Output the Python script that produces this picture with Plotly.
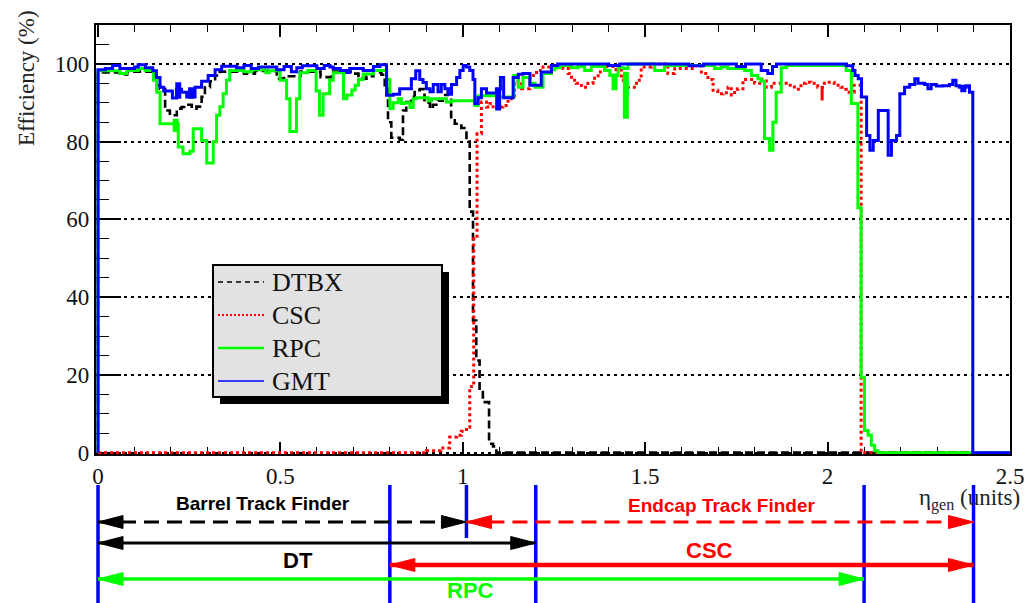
import plotly.graph_objects as go

# ------------------------------------------------------------------
# L1 muon trigger efficiency versus generated pseudorapidity
# Step histograms: left bin edge (eta) and efficiency (%) per bin
# ------------------------------------------------------------------
ETA_MAX = 2.5

dtbx_eta = [0.000, 0.060, 0.080, 0.150, 0.161, 0.170, 0.184, 0.197, 0.216, 0.229,
            0.243, 0.257, 0.270, 0.284, 0.293, 0.307, 0.321, 0.334, 0.400, 0.430,
            0.490, 0.510, 0.555, 0.610, 0.640, 0.700, 0.714, 0.736, 0.755, 0.777,
            0.786, 0.795, 0.804, 0.827, 0.836, 0.845, 0.859, 0.868, 0.882, 0.895,
            0.910, 0.918, 0.932, 0.945, 0.959, 0.968, 0.978, 0.996, 1.010, 1.019,
            1.028, 1.037, 1.046, 1.055, 1.072, 1.083, 1.092]
dtbx_eff = [97.8, 97.3, 98.0, 97.0, 94.5, 93.6, 88.0, 86.8, 88.5, 88.9,
            89.5, 88.5, 89.0, 91.5, 94.0, 95.5, 97.0, 98.0, 97.5, 98.2,
            96.2, 96.8, 98.0, 96.6, 98.0, 97.5, 96.2, 96.8, 97.8, 97.2,
            93.6, 85.0, 81.0, 80.5, 88.0, 90.2, 91.5, 93.2, 93.5, 90.0,
            88.5, 89.5, 90.5, 92.0, 93.7, 86.3, 84.6, 83.5, 80.0, 62.0,
            34.0, 23.7, 16.0, 13.0, 2.3, 1.6, 0.0]

csc_eta = [0.000, 0.900, 0.940, 0.964, 0.983, 0.996, 1.010, 1.019, 1.030, 1.039,
           1.051, 1.065, 1.074, 1.083, 1.097, 1.110, 1.124, 1.133, 1.142, 1.161,
           1.184, 1.193, 1.202, 1.220, 1.238, 1.275, 1.289, 1.298, 1.311, 1.325,
           1.343, 1.357, 1.371, 1.389, 1.420, 1.435, 1.448, 1.476, 1.489, 1.517,
           1.562, 1.581, 1.636, 1.654, 1.672, 1.686, 1.699, 1.713, 1.727, 1.736,
           1.745, 1.754, 1.768, 1.800, 1.814, 1.832, 1.846, 1.891, 1.909, 1.927,
           1.940, 1.954, 1.973, 1.986, 2.000, 2.018, 2.036, 2.050, 2.059, 2.073,
           2.092]
csc_eff = [0.0, 0.5, 1.2, 4.0, 4.5, 5.5, 6.5, 17.0, 55.0, 82.0,
           90.2, 88.9, 89.8, 88.5, 88.9, 89.3, 91.0, 91.8, 95.5, 93.6,
           96.5, 97.0, 98.3, 99.2, 99.6, 98.8, 97.5, 95.8, 95.0, 94.0,
           95.0, 96.3, 97.9, 99.3, 98.5, 95.8, 94.0, 95.8, 99.2, 100.0,
           97.5, 98.8, 99.5, 97.5, 96.0, 93.2, 92.3, 92.6, 94.0, 92.0,
           93.5, 93.6, 96.0, 95.0, 96.0, 94.0, 95.0, 94.5, 93.5, 95.0,
           95.3, 95.0, 94.0, 95.0, 95.3, 94.5, 94.0, 93.5, 92.7, 94.5,
           0.0]

rpc_eta = [0.000, 0.060, 0.079, 0.110, 0.129, 0.152, 0.161, 0.170, 0.220, 0.233,
           0.252, 0.261, 0.284, 0.298, 0.316, 0.325, 0.334, 0.343, 0.352, 0.361,
           0.400, 0.420, 0.460, 0.470, 0.499, 0.517, 0.526, 0.544, 0.553, 0.575,
           0.598, 0.607, 0.617, 0.635, 0.645, 0.673, 0.682, 0.696, 0.705, 0.714,
           0.727, 0.755, 0.791, 0.800, 0.809, 0.823, 0.832, 0.841, 0.855, 0.864,
           0.873, 0.905, 0.914, 0.955, 0.969, 1.033, 1.042, 1.097, 1.140, 1.152,
           1.165, 1.184, 1.198, 1.220, 1.243, 1.252, 1.266, 1.298, 1.316, 1.334,
           1.352, 1.389, 1.403, 1.426, 1.440, 1.453, 1.526, 1.553, 1.690, 1.708,
           1.727, 1.773, 1.791, 1.809, 1.818, 1.827, 1.841, 1.850, 1.859, 1.873,
           1.887, 2.051, 2.065, 2.083, 2.092, 2.101, 2.111, 2.120, 2.129, 2.138]
rpc_eff = [98.2, 97.5, 98.3, 98.8, 98.3, 95.8, 92.7, 84.6, 78.6, 76.9,
           77.5, 83.3, 80.3, 74.5, 80.0, 86.8, 89.0, 92.3, 95.8, 98.3,
           98.0, 98.5, 97.7, 98.2, 95.8, 91.0, 82.6, 91.0, 97.7, 98.3,
           93.0, 86.8, 92.3, 95.8, 97.7, 91.0, 92.0, 93.3, 94.5, 96.0,
           97.4, 98.3, 96.0, 88.5, 90.0, 91.0, 89.8, 90.0, 88.8, 91.0,
           91.3, 90.5, 91.0, 90.2, 90.5, 89.3, 91.8, 91.5, 97.0, 94.0,
           96.5, 95.0, 94.0, 97.5, 98.5, 99.0, 99.6, 99.0, 99.3, 98.3,
           99.3, 98.3, 97.0, 99.0, 98.8, 100.0, 98.3, 99.6, 98.8, 99.2,
           98.8, 98.3, 97.0, 96.2, 95.5, 80.8, 77.8, 85.0, 92.7, 99.0,
           99.6, 98.3, 89.8, 63.0, 19.4, 5.7, 4.5, 1.9, 0.5, 0.0]

gmt_eta = [0.000, 0.020, 0.040, 0.060, 0.100, 0.110, 0.130, 0.150, 0.160, 0.170,
           0.180, 0.204, 0.215, 0.229, 0.243, 0.266, 0.284, 0.302, 0.321, 0.339,
           0.380, 0.400, 0.420, 0.440, 0.490, 0.510, 0.530, 0.545, 0.560, 0.600,
           0.620, 0.636, 0.645, 0.664, 0.682, 0.690, 0.727, 0.755, 0.773, 0.791,
           0.809, 0.827, 0.859, 0.871, 0.882, 0.891, 0.900, 0.910, 0.919, 0.932,
           0.941, 0.951, 0.960, 0.969, 0.983, 0.992, 1.001, 1.010, 1.019, 1.028,
           1.033, 1.042, 1.051, 1.065, 1.092, 1.103, 1.112, 1.138, 1.152, 1.165,
           1.184, 1.215, 1.243, 1.260, 1.400, 1.430, 1.620, 1.660, 1.750, 1.775,
           1.818, 1.836, 1.849, 1.860, 2.051, 2.069, 2.075, 2.084, 2.093, 2.107,
           2.116, 2.125, 2.139, 2.166, 2.175, 2.189, 2.198, 2.211, 2.225, 2.239,
           2.248, 2.266, 2.275, 2.284, 2.298, 2.316, 2.334, 2.343, 2.352, 2.361,
           2.380, 2.389, 2.398]
gmt_eff = [98.5, 98.8, 99.6, 98.8, 99.2, 99.8, 99.0, 98.2, 96.5, 94.0,
           93.0, 91.2, 93.5, 92.7, 91.5, 94.0, 95.5, 97.0, 98.5, 99.4,
           99.0, 99.6, 98.8, 99.2, 98.5, 99.3, 98.0, 99.0, 99.5, 98.8,
           99.6, 99.2, 98.8, 98.3, 97.8, 98.8, 98.3, 99.3, 99.8, 91.9,
           92.2, 93.6, 96.2, 98.2, 96.0, 95.2, 93.6, 92.8, 94.7, 92.8,
           94.7, 93.6, 92.2, 94.7, 96.5, 98.3, 99.6, 99.2, 98.3, 96.0,
           89.8, 91.3, 93.6, 92.5, 93.5, 96.5, 91.3, 96.5, 97.3, 97.5,
           94.5, 97.9, 99.6, 100.0, 99.6, 100.0, 99.5, 100.0, 99.3, 100.0,
           98.3, 97.5, 99.3, 100.0, 99.5, 98.3, 97.0, 96.2, 91.5, 81.6,
           77.8, 80.3, 88.0, 76.5, 80.3, 81.6, 92.3, 94.0, 94.7, 96.2,
           95.0, 94.7, 93.6, 94.7, 94.3, 94.4, 94.7, 95.8, 94.4, 94.0,
           94.4, 92.7, 0.0]

# Statistical error bars (bin centre, low, high) where they are visible
gmt_err_eta = [0.220, 0.255, 1.097, 2.372]
gmt_err_lo = [91.0, 91.0, 88.0, 92.7]
gmt_err_hi = [95.3, 94.0, 94.0, 94.6]
rpc_err_eta = [0.213, 1.416, 1.447]
rpc_err_lo = [82.5, 93.2, 85.9]
rpc_err_hi = [85.9, 97.5, 98.0]
csc_err_eta = [1.985]
csc_err_lo = [90.6]
csc_err_hi = [94.0]

legend_names = ["DTBX", "CSC", "RPC", "GMT"]

# Eta coverage of the track finders and of the muon subsystems
finder_names = ["Barrel Track Finder", "Endcap Track Finder"]
finder_lo = [0.0, 1.01]
finder_hi = [1.01, 2.4]
system_names = ["DT", "CSC", "RPC"]
system_lo = [0.0, 0.8, 0.0]
system_hi = [1.2, 2.4, 2.1]
boundaries = [0.0, 0.8, 1.2, 2.1, 2.4]
finder_boundary = [1.01]

# ------------------------------------------------------------------
W, H = 1030, 603
X0_PX, X1_PX = 98, 1010          # frame left/right
Y0_PX, Y1_PX = 454, 25           # frame bottom/top
PX_PER_ETA = (X1_PX - X0_PX) / ETA_MAX
X_PAD = 0.006
Y_PAD = 0.35

BLUE, GREEN, RED, BLACK = "#0000ff", "#00ff00", "#ff0000", "#000000"
SERIF = "Liberation Serif"
SANS = "Liberation Sans"


def step_trace(eta, eff, color, width, dash="solid"):
    xs = [eta[0]] + list(eta) + [ETA_MAX, ETA_MAX]
    ys = [0.0] + list(eff) + [eff[-1], 0.0]
    return go.Scatter(x=xs, y=ys, mode="lines", line_shape="hv",
                      line=dict(color=color, width=width, dash=dash),
                      hoverinfo="skip", showlegend=False)


def err_trace(eta, lo, hi, color, width):
    xs, ys = [], []
    for e, a, b in zip(eta, lo, hi):
        xs += [e, e, None]
        ys += [a, b, None]
    return go.Scatter(x=xs, y=ys, mode="lines",
                      line=dict(color=color, width=width),
                      hoverinfo="skip", showlegend=False)


fig = go.Figure()
fig.add_trace(step_trace(dtbx_eta, dtbx_eff, BLACK, 2.6, "8px,4px"))
fig.add_trace(step_trace(csc_eta, csc_eff, RED, 3, "3px,3px"))
fig.add_trace(err_trace(csc_err_eta, csc_err_lo, csc_err_hi, RED, 3))
fig.add_trace(step_trace(rpc_eta, rpc_eff, GREEN, 3))
fig.add_trace(err_trace(rpc_err_eta, rpc_err_lo, rpc_err_hi, GREEN, 6))
fig.add_trace(step_trace(gmt_eta, gmt_eff, BLUE, 3))
fig.add_trace(err_trace(gmt_err_eta, gmt_err_lo, gmt_err_hi, BLUE, 6))

# ---------------- coverage diagram under the plot -----------------
DIAG_TOP = 456                    # pixel row where the diagram panel starts
ROW_FINDER, ROW_DT, ROW_CSC, ROW_RPC = 522, 543, 565, 579
HEAD_LEN = 25 / PX_PER_ETA
HEAD_HALF = 6.5


def shaft(lo, hi, row, color, width, dash="solid"):
    return go.Scatter(x=[lo, hi], y=[row, row], mode="lines", xaxis="x2", yaxis="y2",
                      line=dict(color=color, width=width, dash=dash),
                      hoverinfo="skip", showlegend=False)


def heads(lo, hi, row, color):
    xs = [lo, lo + HEAD_LEN, lo + HEAD_LEN, lo, None,
          hi, hi - HEAD_LEN, hi - HEAD_LEN, hi]
    ys = [row, row - HEAD_HALF, row + HEAD_HALF, row, None,
          row, row - HEAD_HALF, row + HEAD_HALF, row]
    return go.Scatter(x=xs, y=ys, mode="lines", fill="toself", fillcolor=color,
                      xaxis="x2", yaxis="y2", line=dict(color=color, width=1),
                      hoverinfo="skip", showlegend=False)


# blue separators
sx, sy = [], []
for b in boundaries:
    sx += [b, b, None]
    sy += [485, 603, None]
for b in finder_boundary:
    sx += [b, b, None]
    sy += [485, 538, None]
fig.add_trace(go.Scatter(x=sx, y=sy, mode="lines", xaxis="x2", yaxis="y2",
                         line=dict(color=BLUE, width=3.5),
                         hoverinfo="skip", showlegend=False))

finder_colors = [BLACK, RED]
for lo, hi, c in zip(finder_lo, finder_hi, finder_colors):
    fig.add_trace(shaft(lo, hi, ROW_FINDER, c, 3, "15px,8px"))
    fig.add_trace(heads(lo, hi, ROW_FINDER, c))

system_rows = [ROW_DT, ROW_CSC, ROW_RPC]
system_colors = [BLACK, RED, GREEN]
system_widths = [3, 4.5, 3.5]
for lo, hi, row, c, w in zip(system_lo, system_hi, system_rows, system_colors, system_widths):
    fig.add_trace(shaft(lo, hi, row, c, w))
    fig.add_trace(heads(lo, hi, row, c))

annotations = []
finder_label_x = [0.452, 1.71]
finder_label_y = [503, 505]
for name, x, y, c in zip(finder_names, finder_label_x, finder_label_y, finder_colors):
    annotations.append(dict(x=x, y=y, xref="x2", yref="y2", text="<b>" + name + "</b>",
                            showarrow=False, font=dict(family=SANS, size=19, color=c),
                            xanchor="center", yanchor="middle"))
system_label_x = [0.547, 1.677, 1.02]
system_label_y = [560, 550, 590]
for name, x, y, c in zip(system_names, system_label_x, system_label_y, system_colors):
    annotations.append(dict(x=x, y=y, xref="x2", yref="y2", text="<b>" + name + "</b>",
                            showarrow=False, font=dict(family=SANS, size=22, color=c),
                            xanchor="center", yanchor="middle"))

# axis titles
annotations.append(dict(x=27 / W, y=1 - 78 / H, xref="paper", yref="paper",
                        text="Efficiency (%)", textangle=-90, showarrow=False,
                        font=dict(family=SERIF, size=23, color="#222"),
                        xanchor="center", yanchor="middle"))
annotations.append(dict(x=1022 / W, y=1 - 499 / H, xref="paper", yref="paper",
                        text="η<sub>gen</sub> (units)", showarrow=False,
                        font=dict(family=SERIF, size=23, color="#222"),
                        xanchor="right", yanchor="middle"))


# ---------------- legend box ----------------
def px(x):
    return x / W


def py(y):
    return 1 - y / H


shapes = [
    dict(type="rect", xref="paper", yref="paper", x0=px(220), x1=px(449), y0=py(404), y1=py(272),
         fillcolor="black", line=dict(width=0)),
    dict(type="rect", xref="paper", yref="paper", x0=px(213), x1=px(442), y0=py(397), y1=py(265),
         fillcolor="#e2e2e2", line=dict(color="black", width=2)),
]
legend_rows = [282, 315, 348, 381]
legend_styles = [(BLACK, 1.3, "5px,4px"), (RED, 2.2, "2px,2px"), (GREEN, 2.5, "solid"), (BLUE, 1.5, "solid")]
for name, row, (c, w, d) in zip(legend_names, legend_rows, legend_styles):
    shapes.append(dict(type="line", xref="paper", yref="paper", x0=px(218), x1=px(264),
                       y0=py(row), y1=py(row), line=dict(color=c, width=w, dash=d)))
    annotations.append(dict(x=px(270), y=py(row), xref="paper", yref="paper", text=name,
                            showarrow=False, font=dict(family=SERIF, size=26, color="#111"),
                            xanchor="left", yanchor="middle"))

tickfont = dict(family=SERIF, size=23, color="#111")
x_dom0 = (X0_PX - X_PAD * PX_PER_ETA) / W

fig.update_layout(
    width=W, height=H, margin=dict(l=0, r=0, t=0, b=0, autoexpand=False),
    paper_bgcolor="white", plot_bgcolor="rgba(0,0,0,0)", showlegend=False,
    xaxis=dict(domain=[x_dom0, X1_PX / W], range=[-X_PAD, ETA_MAX],
               showline=True, linecolor="black", linewidth=2, mirror="allticks",
               ticks="inside", ticklen=12, tickwidth=1.5, tickcolor="black",
               tick0=0, dtick=0.5,
               minor=dict(dtick=0.1, ticks="inside", ticklen=7, tickwidth=1.3, tickcolor="black"),
               showgrid=False, zeroline=False, tickfont=tickfont, layer="below traces",
               automargin=False),
    yaxis=dict(domain=[1 - Y0_PX / H, 1 - Y1_PX / H], range=[-Y_PAD, 110],
               showline=True, linecolor="black", linewidth=2, mirror=True,
               ticks="inside", ticklen=25, tickwidth=1.5, tickcolor="black",
               tick0=0, dtick=20,
               minor=dict(dtick=5, ticks="inside", ticklen=13, tickwidth=1.3, tickcolor="black"),
               showgrid=True, gridcolor="black", gridwidth=1.5, griddash="3px,4px",
               zeroline=False, tickfont=tickfont, layer="below traces", automargin=False),
    xaxis2=dict(domain=[0, 1], range=[-X0_PX / PX_PER_ETA, (W - X0_PX) / PX_PER_ETA],
                visible=False, anchor="y2"),
    yaxis2=dict(domain=[0, (H - DIAG_TOP) / H], range=[H, DIAG_TOP], visible=False, anchor="x2"),
    shapes=shapes,
    annotations=annotations,
)

fig.write_html(
    "out.html",
    config={"responsive": False, "displayModeBar": False},
    post_script="document.body.style.margin='0';"
                "document.documentElement.style.overflow='hidden';"
                "document.body.style.overflow='hidden';",
)
